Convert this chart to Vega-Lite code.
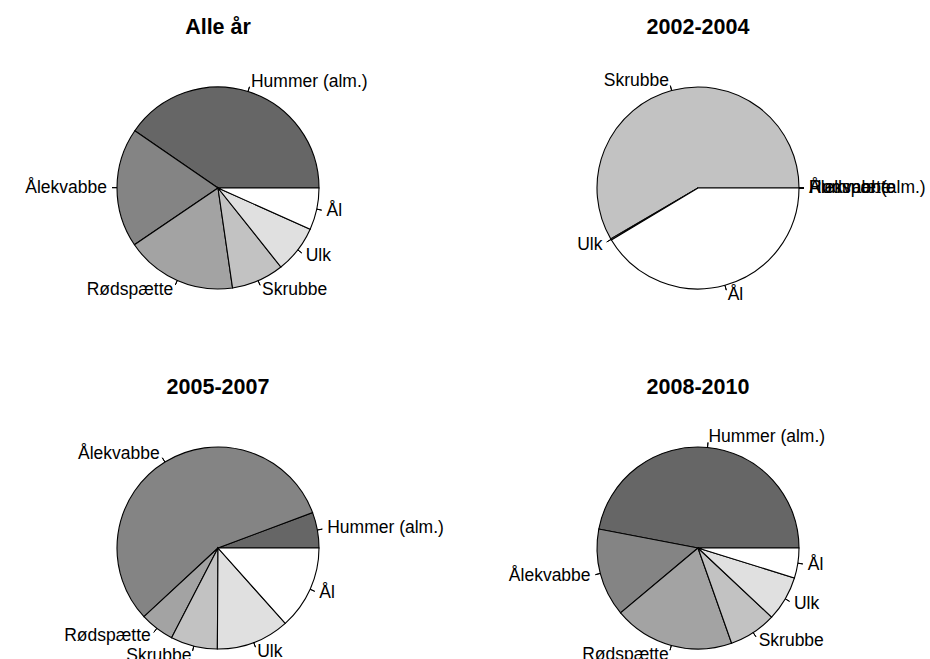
{
  "$schema": "https://vega.github.io/schema/vega-lite/v6.json",
  "background": "white",
  "padding": {"left": 0, "top": 16, "right": 0, "bottom": 0},
  "data": {
    "values": [
      {"panel": "Alle år", "i": 1, "species": "Hummer (alm.)", "pct": 40.4},
      {"panel": "Alle år", "i": 2, "species": "Ålekvabbe", "pct": 19.1},
      {"panel": "Alle år", "i": 3, "species": "Rødspætte", "pct": 17.8},
      {"panel": "Alle år", "i": 4, "species": "Skrubbe", "pct": 8.4},
      {"panel": "Alle år", "i": 5, "species": "Ulk", "pct": 7.6},
      {"panel": "Alle år", "i": 6, "species": "Ål", "pct": 6.7},
      {"panel": "2002-2004", "i": 1, "species": "Hummer (alm.)", "pct": 0},
      {"panel": "2002-2004", "i": 2, "species": "Ålekvabbe", "pct": 0},
      {"panel": "2002-2004", "i": 3, "species": "Rødspætte", "pct": 0},
      {"panel": "2002-2004", "i": 4, "species": "Skrubbe", "pct": 58.4},
      {"panel": "2002-2004", "i": 5, "species": "Ulk", "pct": 0.2},
      {"panel": "2002-2004", "i": 6, "species": "Ål", "pct": 41.4},
      {"panel": "2005-2007", "i": 1, "species": "Hummer (alm.)", "pct": 5.7},
      {"panel": "2005-2007", "i": 2, "species": "Ålekvabbe", "pct": 56.2},
      {"panel": "2005-2007", "i": 3, "species": "Rødspætte", "pct": 5.5},
      {"panel": "2005-2007", "i": 4, "species": "Skrubbe", "pct": 7.5},
      {"panel": "2005-2007", "i": 5, "species": "Ulk", "pct": 11.7},
      {"panel": "2005-2007", "i": 6, "species": "Ål", "pct": 13.4},
      {"panel": "2008-2010", "i": 1, "species": "Hummer (alm.)", "pct": 47.0},
      {"panel": "2008-2010", "i": 2, "species": "Ålekvabbe", "pct": 14.1},
      {"panel": "2008-2010", "i": 3, "species": "Rødspætte", "pct": 19.3},
      {"panel": "2008-2010", "i": 4, "species": "Skrubbe", "pct": 7.6},
      {"panel": "2008-2010", "i": 5, "species": "Ulk", "pct": 7.2},
      {"panel": "2008-2010", "i": 6, "species": "Ål", "pct": 4.8}
    ]
  },
  "transform": [
    {"window": [{"op": "sum", "field": "pct", "as": "cum"}], "groupby": ["panel"], "sort": [{"field": "i"}], "frame": [null, 0]},
    {"calculate": "datum.cum - datum.pct", "as": "start"},
    {"calculate": "datum.cum - datum.pct / 2", "as": "mid"}
  ],
  "facet": {
    "field": "panel",
    "type": "nominal",
    "sort": ["Alle år", "2002-2004", "2005-2007", "2008-2010"],
    "header": {
      "title": null,
      "labelFont": "Liberation Sans",
      "labelFontSize": 21.5,
      "labelFontWeight": "bold",
      "labelColor": "black",
      "labelPadding": 0
    }
  },
  "columns": 2,
  "spacing": {"row": 60, "column": 44},
  "bounds": "flush",
  "spec": {
    "width": 436,
    "height": 300,
    "layer": [
      {
        "mark": {"type": "arc", "radius": 101, "stroke": "black", "strokeWidth": 1.1},
        "encoding": {
          "theta": {"field": "start", "type": "quantitative", "stack": null, "scale": {"domain": [0, 100], "range": [1.5707963, -4.712389]}},
          "theta2": {"field": "cum"},
          "fill": {
            "field": "species",
            "type": "nominal",
            "scale": {
              "domain": ["Hummer (alm.)", "Ålekvabbe", "Rødspætte", "Skrubbe", "Ulk", "Ål"],
              "range": ["#666666", "#848484", "#a3a3a3", "#c2c2c2", "#e0e0e0", "#ffffff"]
            },
            "legend": null
          }
        }
      },
      {
        "mark": {"type": "arc", "radius": 106, "radius2": 101, "stroke": "black", "strokeWidth": 1, "fillOpacity": 0},
        "encoding": {
          "theta": {"field": "mid", "type": "quantitative", "stack": null, "scale": {"domain": [0, 100], "range": [1.5707963, -4.712389]}},
          "theta2": {"field": "mid"}
        }
      },
      {
        "mark": {
          "type": "text",
          "radius": 111,
          "font": "Liberation Sans",
          "fontSize": 17.5,
          "baseline": "middle",
          "color": "black",
          "align": {"expr": "cos(datum.mid / 100 * 2 * PI) > 0 ? 'left' : 'right'"}
        },
        "encoding": {
          "theta": {"field": "mid", "type": "quantitative", "stack": null, "scale": {"domain": [0, 100], "range": [1.5707963, -4.712389]}},
          "text": {"field": "species"}
        }
      }
    ]
  },
  "config": {"view": {"stroke": null}}
}
